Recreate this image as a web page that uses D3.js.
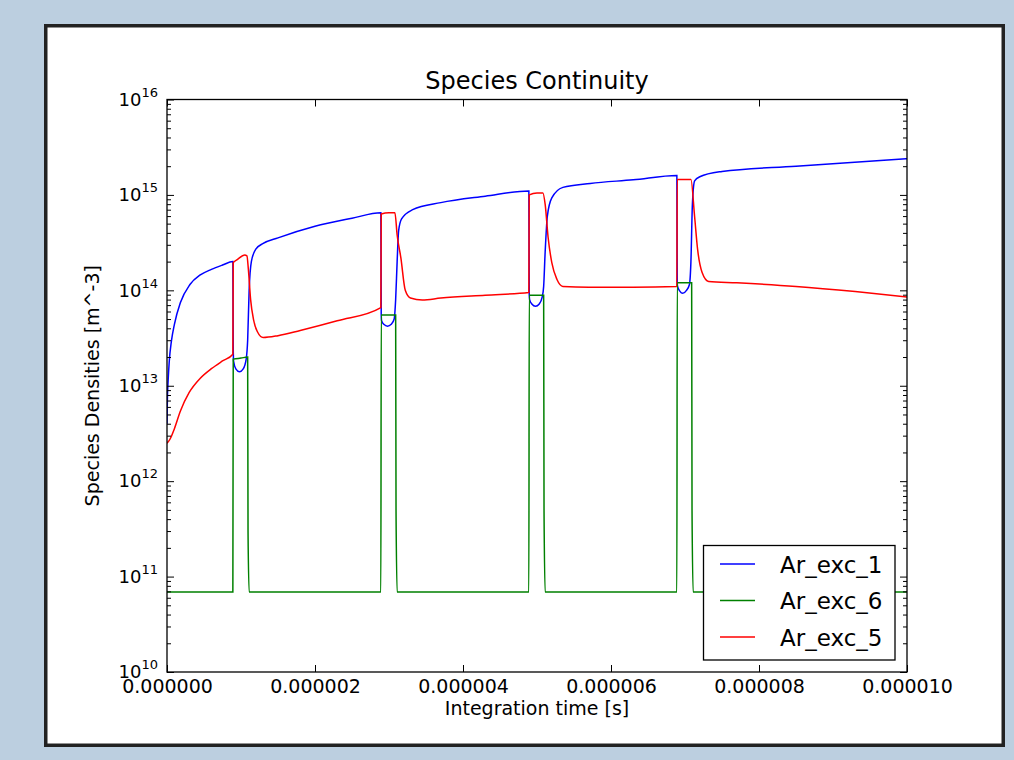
<!DOCTYPE html>
<html>
<head>
<meta charset="utf-8">
<script src="https://cdnjs.cloudflare.com/ajax/libs/d3/7.8.5/d3.min.js"></script>
<style>
  body { margin: 0; background: #bccfe0; }
  text { font-family: "DejaVu Sans", sans-serif; fill: #000; }
</style>
</head>
<body>
<div id="chart"></div>
<script>
// time in microseconds, densities in m^-3
var blueT = [0, 0.005, 0.015, 0.03, 0.06, 0.1, 0.18, 0.31, 0.45, 0.6, 0.75, 0.89,
  0.895, 0.9, 0.93, 0.98, 1.03, 1.07, 1.09, 1.11, 1.14, 1.2, 1.3, 1.5, 2.0, 2.5, 2.89,
  2.895, 2.9, 2.93, 2.98, 3.03, 3.07, 3.09, 3.11, 3.13, 3.17, 3.32, 3.7, 4.3, 4.89,
  4.895, 4.9, 4.93, 4.98, 5.03, 5.07, 5.09, 5.11, 5.14, 5.2, 5.35, 5.72, 6.3, 6.89,
  6.895, 6.9, 6.93, 6.97, 7.02, 7.06, 7.08, 7.1, 7.13, 7.2, 7.5, 8.5, 10];
var blueV = [4e12, 7.1e12, 1.12e13, 1.78e13, 2.95e13, 4.4e13, 7.4e13, 1.15e14, 1.45e14, 1.66e14, 1.84e14, 2e14,
  2.5e13, 1.8e13, 1.5e13, 1.4e13, 1.5e13, 1.9e13, 3e13, 1e14, 2e14, 2.7e14, 3.1e14, 3.55e14, 4.7e14, 5.7e14, 6.5e14,
  5.5e13, 4.8e13, 4.4e13, 4.2e13, 4.4e13, 5e13, 8e13, 2e14, 4.2e14, 5.6e14, 7e14, 8.3e14, 9.7e14, 1.1e15,
  9e13, 8e13, 7.2e13, 6.8e13, 7.2e13, 8.5e13, 1.1e14, 2.5e14, 6e14, 9.3e14, 1.2e15, 1.32e15, 1.44e15, 1.6e15,
  1.2e14, 1.1e14, 9.8e13, 9.3e13, 1e14, 1.15e14, 2e14, 8e14, 1.4e15, 1.55e15, 1.76e15, 2.0e15, 2.4e15];

var greenT = [0, 0.89, 0.895, 1.0, 1.09, 1.095, 1.11, 2.89, 2.895, 3.09, 3.095, 3.11,
  4.89, 4.895, 5.09, 5.095, 5.11, 6.89, 6.895, 7.09, 7.095, 7.11, 10];
var greenV = [6.9e10, 6.9e10, 1.9e13, 1.95e13, 2e13, 3e11, 6.9e10, 6.9e10, 5.5e13, 5.5e13, 5e11, 6.9e10,
  6.9e10, 8.9e13, 8.9e13, 5e11, 6.9e10, 6.9e10, 1.2e14, 1.2e14, 5e11, 6.9e10, 6.9e10];

var redT = [0, 0.04, 0.1, 0.18, 0.3, 0.45, 0.6, 0.75, 0.89,
  0.895, 0.95, 1.05, 1.08, 1.1, 1.13, 1.17, 1.22, 1.3, 1.5, 1.8, 2.3, 2.89,
  2.895, 3.0, 3.08, 3.11, 3.16, 3.22, 3.29, 3.45, 3.7, 4.3, 4.89,
  4.895, 5.0, 5.08, 5.11, 5.15, 5.2, 5.27, 5.35, 5.7, 6.3, 6.89,
  6.895, 7.0, 7.08, 7.13, 7.17, 7.23, 7.32, 7.7, 8.5, 9.3, 10];
var redV = [2.5e12, 2.75e12, 3.55e12, 5.4e12, 8.5e12, 1.2e13, 1.51e13, 1.82e13, 2.14e13,
  1.95e14, 2.1e14, 2.35e14, 2.3e14, 1.65e14, 8e13, 4.9e13, 3.7e13, 3.2e13, 3.35e13, 3.8e13, 4.8e13, 6.6e13,
  6.3e14, 6.5e14, 6.5e14, 3.8e14, 2.2e14, 1.0e14, 8.3e13, 7.9e13, 8.3e13, 8.9e13, 9.5e13,
  1.0e15, 1.05e15, 1.05e15, 8e14, 3.6e14, 1.95e14, 1.3e14, 1.1e14, 1.08e14, 1.08e14, 1.1e14,
  1.45e15, 1.45e15, 1.45e15, 5.9e14, 2.7e14, 1.55e14, 1.24e14, 1.2e14, 1.1e14, 9.7e13, 8.5e13];

var seriesNames = ["Ar_exc_1", "Ar_exc_6", "Ar_exc_5"];
var seriesColors = ["#0000ff", "#008000", "#ff0000"];

var xTicks = [0, 2e-6, 4e-6, 6e-6, 8e-6, 1e-5];
var yExps = [10, 11, 12, 13, 14, 15, 16];

// set the dimensions and margins of the graph
var margin = { top: 99.5, right: 107, bottom: 88, left: 167 },
  width = 1014 - margin.left - margin.right,
  height = 760 - margin.top - margin.bottom;

var root = d3.select("#chart")
  .append("svg")
  .attr("width", 1014)
  .attr("height", 760);

root.append("rect")
  .attr("width", 1014).attr("height", 760)
  .attr("fill", "#bccfe0");

// white figure panel with dark border
root.append("rect")
  .attr("x", 45.75).attr("y", 25.75)
  .attr("width", 957.5).attr("height", 719.5)
  .attr("fill", "#fff")
  .attr("stroke", "#222")
  .attr("stroke-width", 3.5);

var svg = root.append("g")
  .attr("transform", "translate(" + margin.left + "," + margin.top + ")");

var x = d3.scaleLinear().domain([0, 1e-5]).range([0, width]);
var y = d3.scaleLog().domain([1e10, 1e16]).range([height, 0]);

svg.append("clipPath").attr("id", "clip")
  .append("rect").attr("width", width).attr("height", height);

var series = [
  d3.zip(blueT, blueV),
  d3.zip(greenT, greenV),
  d3.zip(redT, redV)
];

var line = d3.line()
  .curve(d3.curveMonotoneX)
  .x(function (d) { return x(d[0] * 1e-6) })
  .y(function (d) { return y(d[1]) });

svg.append("g").attr("clip-path", "url(#clip)")
  .selectAll("path")
  .data(series)
  .enter()
  .append("path")
  .attr("fill", "none")
  .attr("stroke", function (d, i) { return seriesColors[i] })
  .attr("stroke-width", 1.5)
  .attr("d", line);

// minor log ticks
var yMinor = [];
yExps.slice(0, -1).forEach(function (e) {
  for (var k = 2; k < 10; k++) yMinor.push(k * Math.pow(10, e));
});
var yMajor = yExps.map(function (e) { return Math.pow(10, e) });

function styleAxis(g) {
  g.select(".domain").remove();
  g.selectAll("line").attr("stroke", "#000");
}

svg.append("g")
  .call(d3.axisLeft(y).tickValues(yMinor).tickFormat("").tickSize(-4))
  .call(styleAxis);
svg.append("g")
  .attr("transform", "translate(" + width + ",0)")
  .call(d3.axisRight(y).tickValues(yMinor).tickFormat("").tickSize(-4))
  .call(styleAxis);
svg.append("g")
  .attr("transform", "translate(" + width + ",0)")
  .call(d3.axisRight(y).tickValues(yMajor).tickFormat("").tickSize(-7))
  .call(styleAxis);

// y axis with 10^n labels
var yAxis = svg.append("g")
  .call(d3.axisLeft(y).tickValues(yMajor).tickFormat("").tickSize(-7).tickPadding(9))
  .call(styleAxis);
yAxis.selectAll("text")
  .attr("font-size", 18)
  .attr("font-family", "DejaVu Sans")
  .attr("fill", "#000")
  .each(function (d) {
    var t = d3.select(this);
    t.append("tspan").text("10");
    t.append("tspan").attr("dy", -9).attr("font-size", 13).text(Math.round(Math.log10(d)));
  });

// x axis
svg.append("g")
  .attr("transform", "translate(0," + height + ")")
  .call(d3.axisBottom(x).tickValues(xTicks).tickFormat(d3.format(".6f")).tickSize(-7).tickPadding(8))
  .call(styleAxis)
  .selectAll("text")
  .attr("font-size", 19)
  .attr("font-family", "DejaVu Sans")
  .attr("fill", "#000");
svg.append("g")
  .call(d3.axisTop(x).tickValues(xTicks).tickFormat("").tickSize(-7))
  .call(styleAxis);

// frame
svg.append("rect")
  .attr("width", width).attr("height", height)
  .attr("fill", "none")
  .attr("stroke", "#000")
  .attr("stroke-width", 1.3);

// titles
svg.append("text")
  .attr("x", width / 2).attr("y", -11)
  .attr("text-anchor", "middle")
  .attr("font-size", 24)
  .text("Species Continuity");

svg.append("text")
  .attr("x", width / 2).attr("y", height + 43)
  .attr("text-anchor", "middle")
  .attr("font-size", 19)
  .text("Integration time [s]");

svg.append("text")
  .attr("transform", "translate(-68," + (height / 2) + ") rotate(-90)")
  .attr("text-anchor", "middle")
  .attr("font-size", 19)
  .text("Species Densities [m^-3]");

// legend
var legend = root.append("g");
legend.append("rect")
  .attr("x", 703.5).attr("y", 545.5)
  .attr("width", 191.5).attr("height", 114.5)
  .attr("fill", "#fff")
  .attr("stroke", "#000")
  .attr("stroke-width", 1.3);

var rows = legend.selectAll("g.row")
  .data(seriesNames)
  .enter()
  .append("g")
  .attr("class", "row")
  .attr("transform", function (d, i) { return "translate(0," + (564 + i * 36.5) + ")" });
rows.append("line")
  .attr("x1", 720).attr("x2", 755)
  .attr("stroke", function (d, i) { return seriesColors[i] })
  .attr("stroke-width", 1.5);
rows.append("text")
  .attr("x", 780).attr("y", 8.5)
  .attr("font-size", 23)
  .text(function (d) { return d });
</script>
</body>
</html>
